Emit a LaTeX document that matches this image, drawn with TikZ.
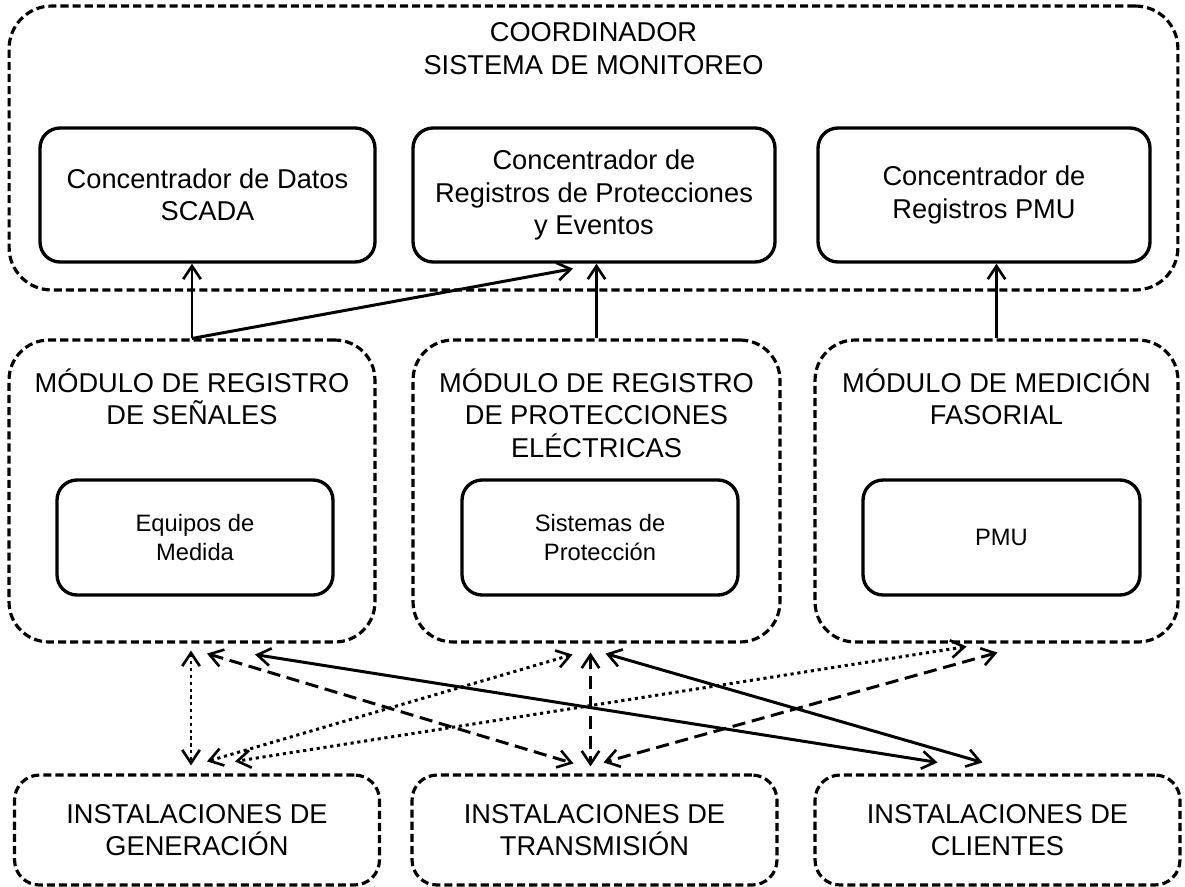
\documentclass[tikz,border=0pt]{standalone}
\usepackage{fontspec}
\setmainfont{Liberation Sans}
\usetikzlibrary{arrows.meta}
\usetikzlibrary{calc}
\usetikzlibrary{positioning}

\begin{document}
\begin{tikzpicture}[
  x=0.02cm, y=-0.02cm,
  > = {Straight Barb[length=7.5pt,width=10pt,line width=1.5pt]},
  group/.style = {draw, line width=1.8pt, dash pattern=on 4.6pt off 2.3pt, inner sep=0pt},
  unit/.style = {draw, line width=1.9pt, rounded corners=0.4cm, inner sep=0pt, align=center},
  big/.style = {font=\fontsize{15.5}{18.5}\selectfont, align=center, inner sep=0pt},
  small/.style = {font=\fontsize{13.5}{16.5}\selectfont},
  link/.style = {<->, line width=1.7pt},
  dashlink/.style = {link, dash pattern=on 7.5pt off 3.8pt},
  dotlink/.style = {link, dash pattern=on 1.8pt off 2.1pt},
  up/.style = {->, line width=1.7pt}
  ]
	\useasboundingbox (0,0) rectangle (1185,886);

	\node[group, rounded corners=0.85cm, minimum width=23.38cm, minimum height=5.68cm] (coord) at (593.5,148) {};
	\node[big, below=0.36cm of coord.north] (coordTitle) {COORDINADOR\\SISTEMA DE MONITOREO};

	\node[unit, big, minimum width=6.7cm, minimum height=2.68cm] (scada) at (207.5,195) {Concentrador de Datos\\SCADA};
	\node[unit, big, minimum width=7.24cm, minimum height=2.68cm] (regProt) at (594,195) {Concentrador de\\Registros de Protecciones\\y Eventos};
	\node[unit, big, minimum width=6.64cm, minimum height=2.68cm] (pmuConc) at (984,195) {Concentrador de\\Registros PMU};

	\node[group, rounded corners=0.8cm, minimum width=7.32cm, minimum height=6.04cm] (modSen) at (192,491) {};
	\node[group, rounded corners=0.8cm, minimum width=7.34cm, minimum height=6.04cm] (modProt) at (596.5,491) {};
	\node[group, rounded corners=0.8cm, minimum width=7.26cm, minimum height=6.04cm] (modFas) at (996.5,491) {};

	\node[big, below=0.6cm of modSen.north] (senTitle) {MÓDULO DE REGISTRO\\DE SEÑALES};
	\node[big, below=0.6cm of modProt.north] (protTitle) {MÓDULO DE REGISTRO\\DE PROTECCIONES\\ELÉCTRICAS};
	\node[big, below=0.6cm of modFas.north] (fasTitle) {MÓDULO DE MEDICIÓN\\FASORIAL};

	\node[unit, small, minimum width=5.52cm, minimum height=2.3cm] (equipos) at (195,537.5) {Equipos de\\Medida};
	\node[unit, small, minimum width=5.52cm, minimum height=2.3cm] (sistemas) at (600,537.5) {Sistemas de\\Protección};
	\node[unit, small, minimum width=5.54cm, minimum height=2.3cm] (pmu) at (1001.5,537.5) {PMU};

	\node[group, big, rounded corners=0.5cm, minimum width=7.3cm, minimum height=2.2cm] (instGen) at (197,830) {INSTALACIONES DE\\GENERACIÓN};
	\node[group, big, rounded corners=0.5cm, minimum width=7.3cm, minimum height=2.2cm] (instTra) at (594.5,830) {INSTALACIONES DE\\TRANSMISIÓN};
	\node[group, big, rounded corners=0.5cm, minimum width=7.3cm, minimum height=2.2cm] (instCli) at (997.5,830) {INSTALACIONES DE\\CLIENTES};

	\draw[up] (modSen.north) -- (modSen.north |- scada.south);
	\draw[up] (modSen.north) -- ($(regProt.south)+(-21,5)$);
	\draw[up] (modProt.north) -- (modProt.north |- regProt.south);
	\draw[up] (modFas.north) -- (modFas.north |- pmuConc.south);

	\draw[dotlink] ($(modSen.south)+(-1,7)$) -- ($(instGen.north)+(-6,-8)$);
	\draw[dashlink] ($(modSen.south)+(15,10)$) -- ($(instTra.north)+(-21,-10)$);
	\draw[link] ($(modSen.south)+(63,11)$) -- ($(instCli.north)+(-60,-11)$);
	\draw[dotlink] ($(modProt.south)+(-24,11)$) -- ($(instGen.north)+(10,-12)$);
	\draw[dashlink] ($(modProt.south)+(-6,9)$) -- ($(instTra.north)+(-4,-7)$);
	\draw[link] ($(modProt.south)+(9,10)$) -- ($(instCli.north)+(-15,-11)$);
	\draw[dotlink] ($(modFas.south)+(-30,3)$) -- ($(instGen.north)+(38,-12)$);
	\draw[dashlink] ($(modFas.south)+(1,9)$) -- ($(instTra.north)+(9,-11)$);

\end{tikzpicture}
\end{document}
